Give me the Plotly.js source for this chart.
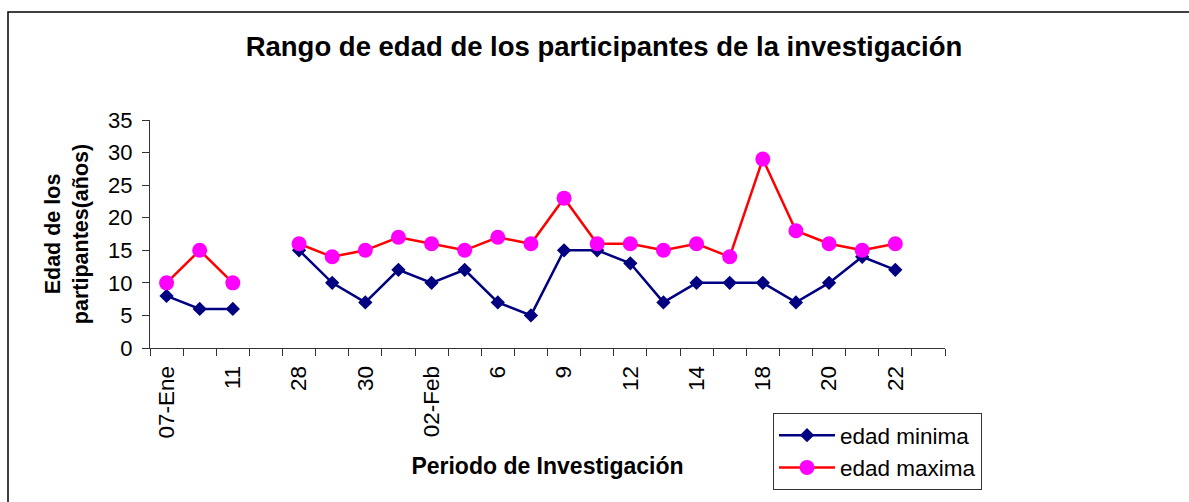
<!DOCTYPE html>
<html>
<head>
<meta charset="utf-8">
<script src="https://cdn.plot.ly/plotly-3.0.1.min.js"></script>
<style>html,body{margin:0;padding:0;background:#fff;}#chart{width:1189px;height:502px;}</style>
</head>
<body>
<div id="chart"></div>
<script>
const categories = ['07-Ene','09-Ene','11-Ene','27-Ene','28-Ene','29-Ene','30-Ene','01-Feb','02-Feb','05-Feb','06-Feb','08-Feb','09-Feb','10-Feb','12-Feb','13-Feb','14-Feb','15-Feb','18-Feb','19-Feb','20-Feb','21-Feb','22-Feb','23-Feb'];
const tickLabels = ['07-Ene','','11','','28','','30','','02-Feb','','6','','9','','12','','14','','18','','20','','22',''];
const edadMinima = [8,6,6,null,15,10,7,12,10,12,7,5,15,15,13,7,10,10,10,7,10,14,12,null];
const edadMaxima = [10,15,10,null,16,14,15,17,16,15,17,16,23,16,16,15,16,14,29,18,16,15,16,null];
const yTicks = [0,5,10,15,20,25,30,35];
const yGrid = [5,10,15,20,25,30];

const FONT = 'Liberation Sans, Arial, Helvetica, sans-serif';

const traces = [
  {x: categories, y: edadMinima, name: 'edad minima', type: 'scatter', mode: 'lines+markers',
   connectgaps: false,
   line: {color: '#000080', width: 2.5},
   marker: {symbol: 'diamond', size: 11, color: '#000080'}},
  {x: categories, y: edadMaxima, name: 'edad maxima', type: 'scatter', mode: 'lines+markers',
   connectgaps: false,
   line: {color: '#FF0000', width: 2.5},
   marker: {symbol: 'circle', size: 15, color: '#FF00FF'}}
];

const layout = {
  width: 1189, height: 502,
  margin: {l: 150, r: 244, t: 120, b: 154},
  paper_bgcolor: '#ffffff', plot_bgcolor: '#ffffff',
  font: {family: FONT, color: '#000'},
  showlegend: true,
  title: {text: '<b>Rango de edad de los participantes de la investigación</b>',
          font: {size: 27.5, family: FONT, color: '#000'},
          x: 0.508, xref: 'container', xanchor: 'center',
          y: 1 - 46/502, yref: 'container', yanchor: 'middle'},
  xaxis: {type: 'category', categoryorder: 'array', categoryarray: categories,
          range: [-0.5, categories.length - 0.5],
          tickmode: 'array', tickvals: categories, ticktext: tickLabels,
          tickangle: -90, tickson: 'boundaries', ticks: 'outside', ticklen: 7,
          tickcolor: '#333', showline: true, linecolor: '#333', linewidth: 1,
          showgrid: false, zeroline: false,
          ticklabelstandoff: 8,
          tickfont: {size: 22.5, family: FONT, color: '#000'},
          title: {text: '<b>Periodo de Investigación</b>', font: {size: 23, family: FONT, color: '#000'}, standoff: 20},
          automargin: false, fixedrange: true},
  yaxis: {range: [0, 35], tickmode: 'array', tickvals: yTicks,
          ticks: 'outside', ticklen: 7, tickcolor: '#333',
          showline: true, linecolor: '#333', linewidth: 1,
          showgrid: false, zeroline: false,
          tickfont: {size: 22, family: FONT, color: '#000'},
          ticklabelstandoff: 5,
          title: {text: '<b>Edad de los<br>partipantes(años)</b>', font: {size: 21.5, family: FONT, color: '#000'}, standoff: 13},
          automargin: false, fixedrange: true},
  yaxis2: {overlaying: 'y', range: [0, 35], tickmode: 'array', tickvals: yGrid,
           showgrid: true, gridcolor: '#000', gridwidth: 1,
           showticklabels: false, ticks: '', showline: false, zeroline: false, fixedrange: true},
  legend: {x: (773-150)/795, y: (348-413)/228, xanchor: 'left', yanchor: 'top',
           bgcolor: '#fff', bordercolor: '#333', borderwidth: 1,
           font: {size: 22.5, family: FONT, color: '#000'},
           itemwidth: 56},
  shapes: [
    {type: 'rect', xref: 'paper', yref: 'paper',
     x0: (8-150)/795, x1: 1.6, y0: -1.5, y1: (348-12)/228,
     line: {color: '#000', width: 1.5}, fillcolor: 'rgba(0,0,0,0)', layer: 'above'}
  ]
};

Plotly.newPlot('chart', traces, layout, {displayModeBar: false, staticPlot: true});
</script>
</body>
</html>
